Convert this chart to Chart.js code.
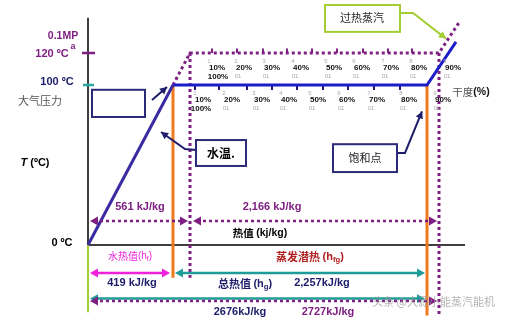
<!DOCTYPE html>
<html><head><meta charset="utf-8">
<script src="https://cdn.jsdelivr.net/npm/chart.js@4"></script>
<style>html,body{margin:0;padding:0;background:#fff}canvas{display:block}</style>
</head><body>
<canvas id="c" width="508" height="323"></canvas>
<script>
// ===== DATA (x: schematic heat axis, y: temperature in °C) =====
const tempTicks = [0, 100, 120];
const tempTickLabels = ['0 ºC', '100 ºC', '120 ºC'];
const pressureLabel = '0.1MP';
// 1 atm curve: water heating, evaporation, superheat
const atmX = [0, 85, 339, 368];
const atmT = [0, 100, 100, 127];
// 0.1 MPa(g) curve (dotted)
const mpaX = [85, 102, 351, 371];
const mpaT = [100, 120, 120, 139];
// dryness (quality) marks
const qualityLabels = ['10%', '20%', '30%', '40%', '50%', '60%', '70%', '80%', '90%'];
const qualityTickX120 = [124, 149, 175, 199, 224, 249, 275, 300, 324];
const qualityTickX100 = [107, 131, 159, 184, 209, 235, 260, 286, 312];
const qualityLabelX120 = [129, 156, 184, 213, 246, 274, 303, 331, 365];
const qualityLabelX100 = [115, 144, 174, 201, 230, 259, 289, 321, 355];
// heat spans
const spanStart = [2, 105, 2, 87, 2, 2];
const spanEnd = [100, 349, 82, 337, 337, 349];
const spanLevelT = [15, 15, -17.5, -17.5, -33.5, -35];
const heatLabels = ['561 kJ/kg', '2,166 kJ/kg', '419 kJ/kg', '2,257kJ/kg', '2676kJ/kg', '2727kJ/kg'];
const axisTopT = 142, axisRightX = 377, lowerT1 = -20.5, lowerT2 = -44, greenBottomT = -42;

const C = {
  navy: '#1d1d6b', purple: '#7e1f82', blue: '#1c1cc8', steep: '#3a2ba0', orange: '#f07a1e',
  teal: '#1f9c9a', magenta: '#ee22dd', green: '#a4cc33', red: '#b02020', gray: '#555'
};
const FONT = '"Liberation Sans", "Noto Sans CJK SC", sans-serif';
const CJK = '"Noto Sans CJK SC", "Liberation Sans", sans-serif';

function seg(xs, ts) { return xs.map((x, i) => ({ x, y: ts[i] })); }
function ticks(xs, t0, t1) {
  const d = [];
  xs.forEach(x => { d.push({ x, y: t0 }, { x, y: t1 }, { x, y: null }); });
  return d;
}
const base = { showLine: true, pointRadius: 0, fill: false, tension: 0, spanGaps: false };

const datasets = [
  Object.assign({}, base, { data: [{ x: 0, y: axisTopT }, { x: 0, y: 0 }, { x: axisRightX, y: 0 }], borderColor: '#000', borderWidth: 1.5, order: 10 }),
  Object.assign({}, base, { data: [{ x: 0, y: 0 }, { x: 0, y: greenBottomT }], borderColor: C.green, borderWidth: 2, order: 9 }),
  Object.assign({}, base, { data: [{ x: -5, y: tempTicks[1] }, { x: 6, y: tempTicks[1] }], borderColor: '#2aa6a0', borderWidth: 2.5, order: 2 }),
  Object.assign({}, base, { data: [{ x: -6, y: tempTicks[2] }, { x: 7, y: tempTicks[2] }], borderColor: C.purple, borderWidth: 2.5, order: 2 }),
  Object.assign({}, base, { data: seg(mpaX, mpaT), borderColor: C.purple, borderWidth: 3, borderDash: [3, 3], order: 8 }),
  Object.assign({}, base, { data: [{ x: mpaX[1], y: mpaT[1] }, { x: mpaX[1], y: lowerT1 }], borderColor: C.purple, borderWidth: 3, borderDash: [3, 3], order: 8 }),
  Object.assign({}, base, { data: [{ x: mpaX[2], y: mpaT[2] }, { x: mpaX[2], y: lowerT2 }], borderColor: C.purple, borderWidth: 3, borderDash: [3, 3], order: 8 }),
  Object.assign({}, base, { data: ticks(qualityTickX120, 120, 122.8), borderColor: C.purple, borderWidth: 2, order: 7 }),
  Object.assign({}, base, { data: ticks(qualityTickX100, 100, 96.8), borderColor: C.navy, borderWidth: 2, order: 7 }),
  Object.assign({}, base, { data: [{ x: atmX[1], y: atmT[1] }, { x: atmX[1], y: lowerT1 }], borderColor: C.orange, borderWidth: 3, order: 5 }),
  Object.assign({}, base, { data: [{ x: atmX[2], y: atmT[2] }, { x: atmX[2], y: lowerT2 }], borderColor: C.orange, borderWidth: 3, order: 5 }),
  Object.assign({}, base, { data: seg(atmX.slice(0, 2), atmT.slice(0, 2)), borderColor: C.steep, borderWidth: 3, order: 3 }),
  Object.assign({}, base, { data: seg(atmX.slice(1), atmT.slice(1)), borderColor: C.blue, borderWidth: 3, order: 3 })
];

// ===== annotation layout =====
const spanStyle = [
  { color: C.purple, dash: [3, 3], w: 2.5 },
  { color: C.purple, dash: [3, 3], w: 2.5 },
  { color: C.magenta, dash: [], w: 2.5 },
  { color: C.teal, dash: [], w: 2.5 },
  { color: C.teal, dash: [], w: 2.5 },
  { color: C.purple, dash: [3, 3], w: 2.5 }
];
const heatLabelPos = [[52, 23.8], [184, 23.8], [44, -23.8], [234, -23.8], [152, -42], [240, -42]];
const heatLabelColor = [C.purple, C.purple, C.navy, C.navy, C.navy, C.purple];
const boxes = [
  { x0: 4, x1: 57, t0: 97, t1: 80, color: '#2b2b7a' },
  { x0: 108, x1: 158, t0: 65.6, t1: 49.4, color: '#2b2b7a', text: '水温.', tx: 133, tt: 57.5, font: 'bold 12px ' + CJK, tc: '#000' },
  { x0: 245, x1: 309, t0: 63, t1: 45.6, color: '#2b2b7a', text: '饱和点', tx: 277, tt: 54.4, font: '11px ' + CJK, tc: '#222' },
  { x0: 237, x1: 312, t0: 150, t1: 133.2, color: C.green, text: '过热蒸汽', tx: 274, tt: 141.9, font: '11px ' + CJK, tc: '#222' }
];
const callouts = [
  { pts: [[64, 90.6], [79, 98.8]], color: C.navy },
  { pts: [[108, 59.4], [97, 60], [73, 70.6]], color: C.navy },
  { pts: [[310, 57.5], [317, 57.5], [334, 83.5]], color: C.navy },
  { pts: [[312, 145], [325, 145], [358, 129]], color: C.green }
];

const annot = {
  id: 'annot',
  afterDatasetsDraw(chart) {
    const ctx = chart.ctx, sx = chart.scales.x, sy = chart.scales.y;
    const X = v => sx.getPixelForValue(v), Y = v => sy.getPixelForValue(v);
    function text(s, x, t, font, color, align) {
      ctx.font = font; ctx.fillStyle = color; ctx.textAlign = align || 'center'; ctx.textBaseline = 'middle';
      ctx.fillText(s, X(x), Y(t));
    }
    function fontOf(p, size, weight) {
      return (p.it ? 'italic ' : '') + (p.w0 || weight) + ' ' + (p.sub ? size * 0.7 : size) + 'px ' + (p.cjk ? CJK : FONT);
    }
    function rich(parts, x, t, size, weight, color) {
      let w = 0;
      parts.forEach(p => { ctx.font = fontOf(p, size, weight); p.w = ctx.measureText(p.s).width; w += p.w; });
      let px = X(x) - w / 2; const py = Y(t);
      ctx.textAlign = 'left'; ctx.textBaseline = 'middle';
      parts.forEach(p => {
        ctx.font = fontOf(p, size, weight); ctx.fillStyle = p.c || color;
        ctx.fillText(p.s, px, py + (p.sub ? size * 0.3 : 0)); px += p.w;
      });
    }
    function head(x1, y1, x2, y2, color, size) {
      const a = Math.atan2(y2 - y1, x2 - x1);
      ctx.save(); ctx.fillStyle = color; ctx.beginPath();
      ctx.moveTo(x2, y2);
      ctx.lineTo(x2 - size * Math.cos(a) + size * 0.55 * Math.sin(a), y2 - size * Math.sin(a) - size * 0.55 * Math.cos(a));
      ctx.lineTo(x2 - size * Math.cos(a) - size * 0.55 * Math.sin(a), y2 - size * Math.sin(a) + size * 0.55 * Math.cos(a));
      ctx.closePath(); ctx.fill(); ctx.restore();
    }
    spanStart.forEach((s, i) => {
      const st = spanStyle[i], y = Y(spanLevelT[i]), x0 = X(s), x1 = X(spanEnd[i]);
      ctx.save(); ctx.strokeStyle = st.color; ctx.lineWidth = st.w; ctx.setLineDash(st.dash);
      ctx.beginPath(); ctx.moveTo(x0 + 4, y); ctx.lineTo(x1 - 4, y); ctx.stroke(); ctx.restore();
      head(x1, y, x0, y, st.color, 8);
      head(x0, y, x1, y, st.color, 8);
    });
    callouts.forEach(c => {
      ctx.save(); ctx.strokeStyle = c.color; ctx.lineWidth = 2; ctx.beginPath();
      c.pts.forEach((p, i) => { i ? ctx.lineTo(X(p[0]), Y(p[1])) : ctx.moveTo(X(p[0]), Y(p[1])); });
      ctx.stroke(); ctx.restore();
      const n = c.pts.length, a = c.pts[n - 2], b = c.pts[n - 1];
      head(X(a[0]), Y(a[1]), X(b[0]), Y(b[1]), c.color, 7);
    });
    boxes.forEach(b => {
      ctx.save(); ctx.fillStyle = '#fff'; ctx.strokeStyle = b.color; ctx.lineWidth = 2;
      const x = X(b.x0), y = Y(b.t0), w = X(b.x1) - x, h = Y(b.t1) - y;
      ctx.fillRect(x, y, w, h); ctx.strokeRect(x, y, w, h); ctx.restore();
      if (b.text) text(b.text, b.tx, b.tt, b.font, b.tc);
    });
    text(pressureLabel, -25, 130.6, 'bold 10.5px ' + FONT, C.purple);
    text(tempTickLabels[2], -36, 119.4, 'bold 11px ' + FONT, C.purple);
    text('a', -15, 124.2, 'bold 9px ' + FONT, C.purple);
    text(tempTickLabels[1], -31, 101.9, 'bold 11px ' + FONT, C.navy);
    text(tempTickLabels[0], -26, 1.3, 'bold 11px ' + FONT, '#000');
    text('大气压力', -48, 90, '11px ' + CJK, C.gray);
    rich([{ s: 'T', it: 1 }, { s: ' (ºC)' }], -53, 51, 11, 'bold', '#000');
    qualityLabels.forEach((q, i) => {
      text(q, qualityLabelX120[i], 110.6, 'bold 8px ' + FONT, '#111');
      text(q, qualityLabelX100[i], 90.6, 'bold 8px ' + FONT, '#111');
      text(String(i + 1), qualityLabelX120[i] - 8, 114.8, '6px ' + FONT, '#aaa');
      text(String(i + 1), qualityLabelX100[i] - 8, 94.8, '6px ' + FONT, '#aaa');
      if (i > 0) {
        text('01', qualityLabelX120[i] - 6, 105.3, '6px ' + FONT, '#aaa');
        text('01', qualityLabelX100[i] - 6, 85.3, '6px ' + FONT, '#aaa');
      }
    });
    text('100%', 130, 105, 'bold 8px ' + FONT, '#111');
    text('100%', 113, 85.4, 'bold 8px ' + FONT, '#111');
    rich([{ s: '干度', cjk: 1, w0: 'normal', c: C.gray }, { s: '(%)' }], 383, 95.6, 10.5, 'bold', '#111');
    heatLabels.forEach((s, i) => text(s, heatLabelPos[i][0], heatLabelPos[i][1], 'bold 11px ' + FONT, heatLabelColor[i]));
    rich([{ s: '热值 ', cjk: 1 }, { s: '(kj/kg)' }], 172, 7.5, 10.5, 'bold', '#000');
    rich([{ s: '水热值', cjk: 1 }, { s: '(h' }, { s: 'f', sub: 1 }, { s: ')' }], 42, -6.9, 10, 'normal', C.magenta);
    rich([{ s: '蒸发潜热 ', cjk: 1 }, { s: '(h' }, { s: 'fg', sub: 1 }, { s: ')' }], 222, -7.5, 11, 'bold', C.red);
    rich([{ s: '总热值 ', cjk: 1 }, { s: '(h' }, { s: 'g', sub: 1 }, { s: ')' }], 157, -24.4, 11, 'bold', C.navy);
    text('头条 @大源小能蒸汽能机', 407, -35.6, '11px ' + CJK, 'rgba(150,150,150,0.7)', 'right');
  }
};

new Chart(document.getElementById('c'), {
  type: 'scatter',
  data: { datasets },
  options: {
    responsive: false, animation: false, devicePixelRatio: 1,
    layout: { padding: 0 },
    plugins: { legend: { display: false }, tooltip: { enabled: false } },
    scales: {
      x: { type: 'linear', min: -88, max: 420, display: false },
      y: { type: 'linear', min: -48.75, max: 153.125, display: false }
    }
  },
  plugins: [annot]
});
</script>
</body></html>
